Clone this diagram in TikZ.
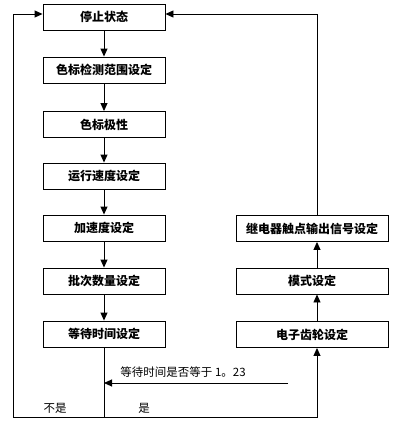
\documentclass[tikz,border=0pt]{standalone}
\usepackage{fontspec}
\newfontfamily\cjk{Noto Sans CJK SC}
\usetikzlibrary{arrows.meta}
\begin{document}
\begin{tikzpicture}[x=1pt,y=-1pt,
  every path/.style={line width=0.9pt},
  lbox/.style={draw, line width=0.9pt, minimum width=122pt, minimum height=26pt, inner sep=0pt, font=\cjk\bfseries\fontsize{12}{14}\selectfont},
  rbox/.style={lbox, minimum width=152pt},
  arr/.style={-{Triangle[length=8pt,width=7pt]}},
  lbl/.style={inner sep=0pt, font=\cjk\fontsize{11.5}{13}\selectfont}]
\useasboundingbox (0,0) rectangle (401,439);
\node[lbox] (b1) at (104,17) {停止状态};
\node[lbox] (b2) at (104,70) {色标检测范围设定};
\node[lbox] (b3) at (104,124.5) {色标极性};
\node[lbox] (b4) at (104,176) {运行速度设定};
\node[lbox] (b5) at (104,228) {加速度设定};
\node[lbox] (b6) at (104,281) {批次数量设定};
\node[lbox] (b7) at (104,334) {等待时间设定};
\node[rbox] (r1) at (312,228.5) {继电器触点输出信号设定};
\node[rbox] (r2) at (312,281) {模式设定};
\node[rbox] (r3) at (312,334.5) {电子齿轮设定};
\coordinate (bl) at (13,417);
\coordinate (bm) at (104,417);
\coordinate (br) at (317,417);
\coordinate (tl) at (13,14);
\coordinate (tr) at (317,14);
\coordinate (cs) at (288,383);
\draw[arr] (b1) -- (b2);
\draw[arr] (b2) -- (b3);
\draw[arr] (b3) -- (b4);
\draw[arr] (b4) -- (b5);
\draw[arr] (b5) -- (b6);
\draw[arr] (b6) -- (b7);
\draw (b7.south) -- (bm);
\draw[arr] (bm) -- (bl) -- (tl) -- (tl -| b1.west);
\draw[arr] (bm) -- (br) -- (r3.south -| br);
\draw[arr] (r3.north -| br) -- (r2.south -| br);
\draw[arr] (r2.north -| br) -- (r1.south -| br);
\draw[arr] (r1.north -| br) -- (tr) -- (tr -| b1.east);
\draw[arr] (cs) -- (cs -| bm);
\node[lbl, anchor=west] (q) at (120,372) {等待时间是否等于 1。23};
\node[lbl] (no) at (55,408) {不是};
\node[lbl] (yes) at (144,408) {是};
\end{tikzpicture}
\end{document}
